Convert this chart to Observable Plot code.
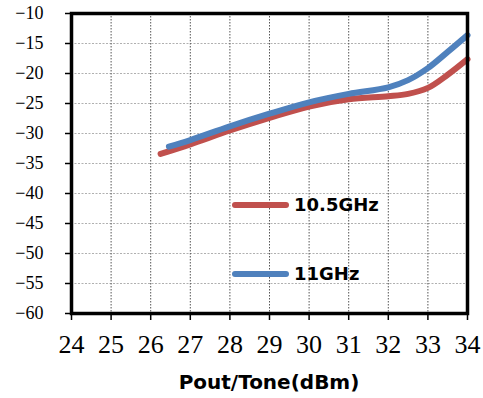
<!DOCTYPE html>
<html>
<head>
<meta charset="utf-8">
<script src="https://cdn.jsdelivr.net/npm/d3@7"></script>
<script src="https://cdn.jsdelivr.net/npm/@observablehq/plot@0.6"></script>
<style>
  html, body { margin: 0; padding: 0; background: #fff; }
  #wrap { position: relative; width: 483px; height: 398px; background: #fff; }
  #title { position: absolute; left: 71px; width: 396px; top: 372px; text-align: center;
           font: bold 20px "DejaVu Sans"; line-height: 1; color: #000; white-space: nowrap; }
  .leg { position: absolute; left: 232px; display: flex; align-items: center;
         font: bold 18px "DejaVu Sans"; line-height: 1; color: #000; white-space: nowrap; }
  .leg .sw { width: 57px; height: 6px; border-radius: 3px; margin-right: 5px; }
</style>
</head>
<body>
<div id="wrap"></div>
<script>
const seriesNames = ["10.5GHz", "11GHz"];
const seriesColors = ["#C0504D", "#4F81BD"];
const redX = [26.25, 27, 28, 29, 30, 31, 32, 32.5, 33, 33.5, 34];
const redY = [-33.4, -31.8, -29.5, -27.4, -25.5, -24.3, -23.8, -23.4, -22.4, -20.2, -17.6];
const blueX = [26.46, 27, 28, 29, 30, 31, 32, 32.5, 33, 33.5, 34];
const blueY = [-32.2, -31.1, -28.8, -26.7, -24.8, -23.4, -22.3, -21.1, -19.1, -16.4, -13.6];
const xTicks = [24, 25, 26, 27, 28, 29, 30, 31, 32, 33, 34];
const yTicks = [-60, -55, -50, -45, -40, -35, -30, -25, -20, -15, -10];
const xTitle = "Pout/Tone(dBm)";

const redData = redX.map((x, i) => ({x, y: redY[i]}));
const blueData = blueX.map((x, i) => ({x, y: blueY[i]}));

const chart = Plot.plot({
  width: 483, height: 365,
  marginTop: 13, marginLeft: 71, marginRight: 16, marginBottom: 52,
  style: {background: "#fff", color: "#000"},
  x: {domain: [24, 34]},
  y: {domain: [-60, -10]},
  marks: [
    Plot.gridY(yTicks.slice(1, -1), {stroke: "#b0b0b0", strokeOpacity: 1, strokeDasharray: "2,1.5", strokeWidth: 1}),
    Plot.gridX(xTicks.slice(1, -1), {stroke: "#555", strokeOpacity: 1, strokeDasharray: "1.5,1.5", strokeWidth: 1}),
    Plot.axisX(xTicks, {tickSize: 7, tickPadding: 14, fontSize: 26, fontFamily: "Liberation Serif", label: null, strokeWidth: 1.5}),
    Plot.axisY(yTicks, {tickSize: 6, tickPadding: 22, fontSize: 18, fontFamily: "Liberation Serif", label: null, strokeWidth: 1.5,
      tickFormat: d => String(d).replace("-", "\u2212")}),
    Plot.line(redData, {x: "x", y: "y", stroke: seriesColors[0], strokeWidth: 6, curve: "catmull-rom"}),
    Plot.line(blueData, {x: "x", y: "y", stroke: seriesColors[1], strokeWidth: 6, curve: "catmull-rom"}),
    Plot.frame({stroke: "#000", strokeWidth: 3.5})
  ]
});

const wrap = document.getElementById("wrap");
wrap.appendChild(chart);

const title = document.createElement("div");
title.id = "title";
title.textContent = xTitle;
wrap.appendChild(title);

const legTops = [196, 265];
seriesNames.forEach((name, i) => {
  const row = document.createElement("div");
  row.className = "leg";
  row.style.top = legTops[i] + "px";
  const sw = document.createElement("div");
  sw.className = "sw";
  sw.style.background = seriesColors[i];
  const t = document.createElement("span");
  t.textContent = name;
  row.appendChild(sw);
  row.appendChild(t);
  wrap.appendChild(row);
});
</script>
</body>
</html>
